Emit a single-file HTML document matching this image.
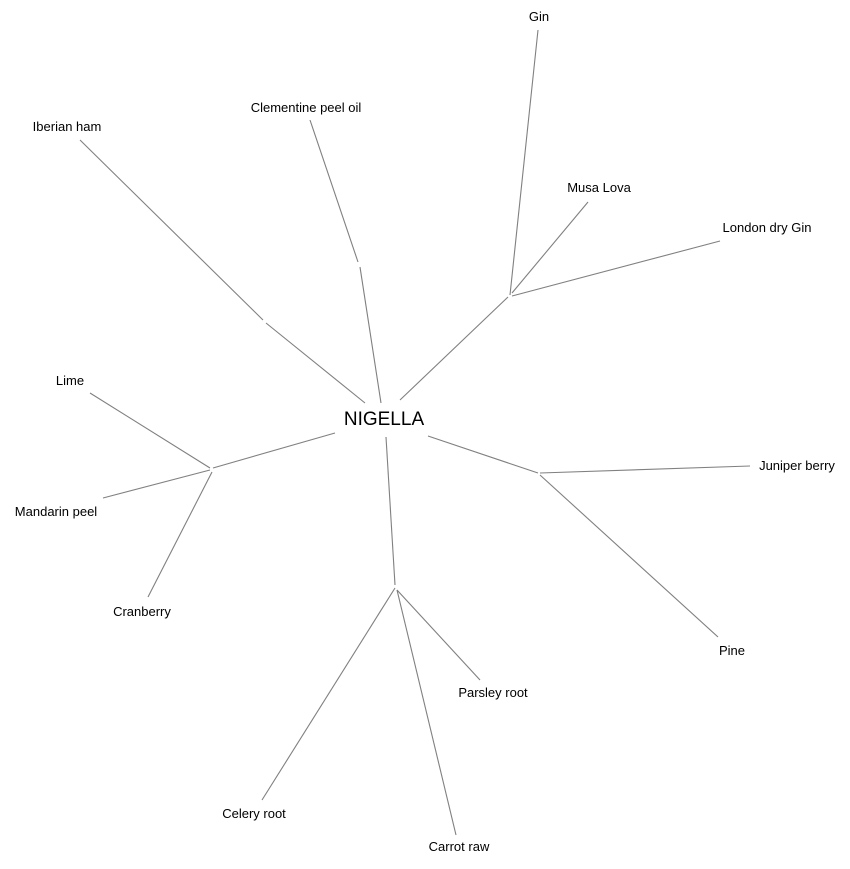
<!DOCTYPE html>
<html><head><meta charset="utf-8"><style>
html,body{margin:0;padding:0;background:#fff;}
svg text{font-family:"Liberation Sans",Arial,sans-serif;font-size:13px;fill:#000;}
</style></head><body>
<svg width="850" height="864" viewBox="0 0 850 864" xmlns="http://www.w3.org/2000/svg">
<g stroke="#808080" stroke-width="1.1" fill="none">
<polyline points="80,140 263,320"/>
<polyline points="266,323 365,403"/>
<polyline points="310,120 358,262"/>
<polyline points="360,267 381,403"/>
<polyline points="538,30 510,295"/>
<polyline points="588,202 512,293"/>
<polyline points="720,241 512,296"/>
<polyline points="400,400 508,297"/>
<polyline points="428,436 538,473"/>
<polyline points="540,473 750,466"/>
<polyline points="540,475 718,637"/>
<polyline points="386,437 395,585"/>
<polyline points="397,590 480,680"/>
<polyline points="397,590 456,835"/>
<polyline points="395,588 262,800"/>
<polyline points="335,433 213,468"/>
<polyline points="90,393 210,468"/>
<polyline points="103,498 210,470"/>
<polyline points="148,597 212,472"/>
</g>
<text x="384" y="425" text-anchor="middle" style="font-size:19px">NIGELLA</text>
<text x="539" y="21" text-anchor="middle">Gin</text>
<text x="306" y="112" text-anchor="middle">Clementine peel oil</text>
<text x="67" y="131" text-anchor="middle">Iberian ham</text>
<text x="599" y="192" text-anchor="middle">Musa Lova</text>
<text x="767" y="232" text-anchor="middle">London dry Gin</text>
<text x="70" y="385" text-anchor="middle">Lime</text>
<text x="797" y="470" text-anchor="middle">Juniper berry</text>
<text x="56" y="516" text-anchor="middle">Mandarin peel</text>
<text x="142" y="616" text-anchor="middle">Cranberry</text>
<text x="732" y="655" text-anchor="middle">Pine</text>
<text x="493" y="697" text-anchor="middle">Parsley root</text>
<text x="254" y="818" text-anchor="middle">Celery root</text>
<text x="459" y="851" text-anchor="middle">Carrot raw</text>
</svg>
</body></html>
